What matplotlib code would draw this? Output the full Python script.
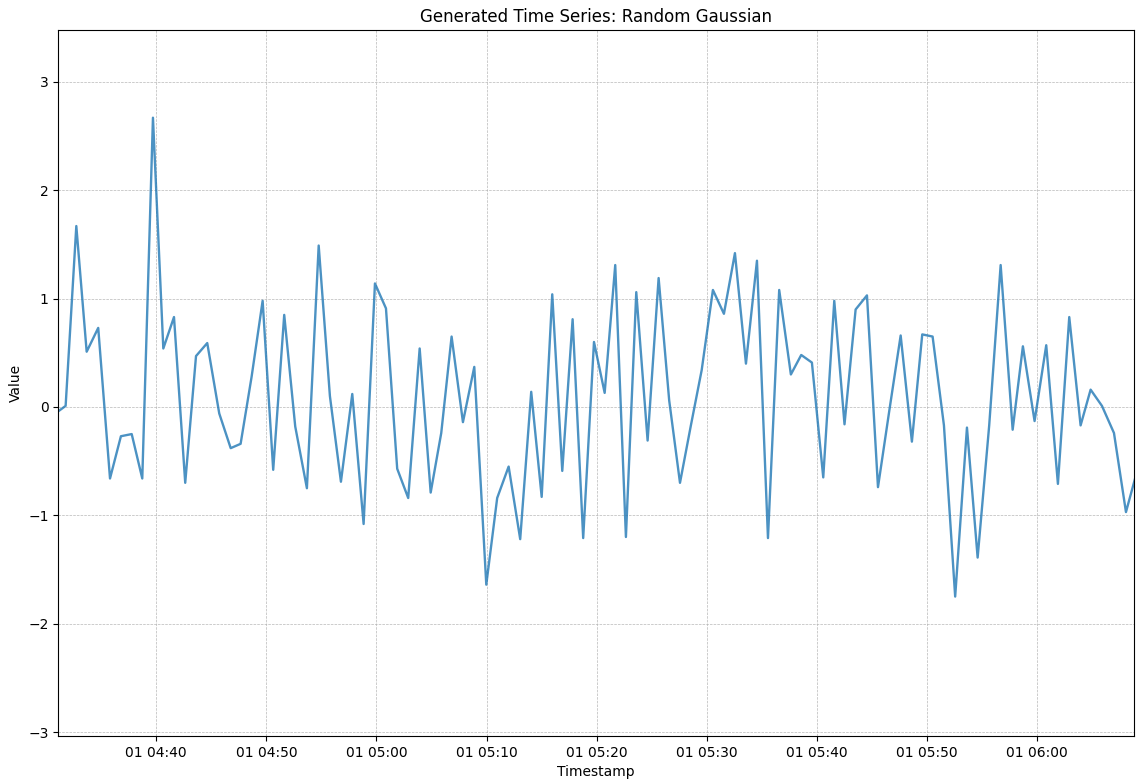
import numpy as np
import pandas as pd
import matplotlib
matplotlib.use("Agg")
import matplotlib.pyplot as plt
import matplotlib.dates as mdates

# sample times in minutes after 04:40, and the values
base_time = pd.Timestamp("2024-01-01 04:40:00")
minutes = [
    -9.30, -8.23, -7.26, -6.32, -5.27, -4.20, -3.21, -2.23, -1.27, -0.30,
    0.64, 1.61, 2.63, 3.61, 4.63, 5.72, 6.76, 7.66, 8.66, 9.66,
    10.62, 11.62, 12.62, 13.68, 14.75, 15.77, 16.77, 17.80, 18.83, 19.86,
    20.86, 21.88, 22.88, 23.92, 24.92, 25.88, 26.82, 27.85, 28.88, 29.97,
    30.96, 32.00, 33.05, 34.05, 35.00, 35.96, 36.87, 37.81, 38.77, 39.75,
    40.72, 41.68, 42.65, 43.59, 44.62, 45.62, 46.58, 47.56, 48.55, 49.53,
    50.55, 51.55, 52.55, 53.55, 54.55, 55.55, 56.57, 57.63, 58.57, 59.54,
    60.57, 61.57, 62.50, 63.51, 64.54, 65.54, 66.56, 67.60, 68.62, 69.56,
    70.50, 71.53, 72.55, 73.62, 74.59, 75.64, 76.68, 77.77, 78.70, 79.76,
    80.82, 81.88, 82.91, 83.94, 84.85, 85.88, 86.97, 88.06, 89.10,
]
values = [
    -0.07, 0.01, 1.67, 0.51, 0.73, -0.66, -0.27, -0.25, -0.66, 2.67,
    0.54, 0.83, -0.70, 0.47, 0.59, -0.06, -0.38, -0.34, 0.28, 0.98,
    -0.58, 0.85, -0.18, -0.75, 1.49, 0.10, -0.69, 0.12, -1.08, 1.14,
    0.91, -0.57, -0.84, 0.54, -0.79, -0.24, 0.65, -0.14, 0.37, -1.64,
    -0.84, -0.55, -1.22, 0.14, -0.83, 1.04, -0.59, 0.81, -1.21, 0.60,
    0.13, 1.31, -1.20, 1.06, -0.31, 1.19, 0.06, -0.70, -0.17, 0.34,
    1.08, 0.86, 1.42, 0.40, 1.35, -1.21, 1.08, 0.30, 0.48, 0.41,
    -0.65, 0.98, -0.16, 0.90, 1.03, -0.74, -0.04, 0.66, -0.32, 0.67,
    0.65, -0.17, -1.75, -0.19, -1.39, -0.17, 1.31, -0.21, 0.56, -0.13,
    0.57, -0.71, 0.83, -0.17, 0.16, 0.01, -0.24, -0.97, -0.58,
]
timestamps = base_time + pd.to_timedelta(minutes, unit="min")

x_start = pd.Timestamp("2024-01-01 04:31:06")
x_end = pd.Timestamp("2024-01-01 06:08:49")

fig = plt.figure(figsize=(11.4, 7.84), dpi=100)
ax = fig.add_axes([0.0511, 0.0612, 0.9439, 0.9002])

ax.plot(timestamps, values, color="#1f77b4", alpha=0.8, linewidth=1.7)

ax.set_xlim(x_start, x_end)
ax.set_ylim(-3.037, 3.477)
ax.xaxis.set_major_locator(mdates.MinuteLocator(byminute=range(0, 60, 10)))
ax.xaxis.set_major_formatter(mdates.DateFormatter("%d %H:%M"))

ax.grid(True, linestyle="--", linewidth=0.5, color="#b0b0b0", alpha=0.9)
ax.set_title("Generated Time Series: Random Gaussian")
ax.set_xlabel("Timestamp")
ax.set_ylabel("Value")

fig.savefig("out.png", dpi=100)
